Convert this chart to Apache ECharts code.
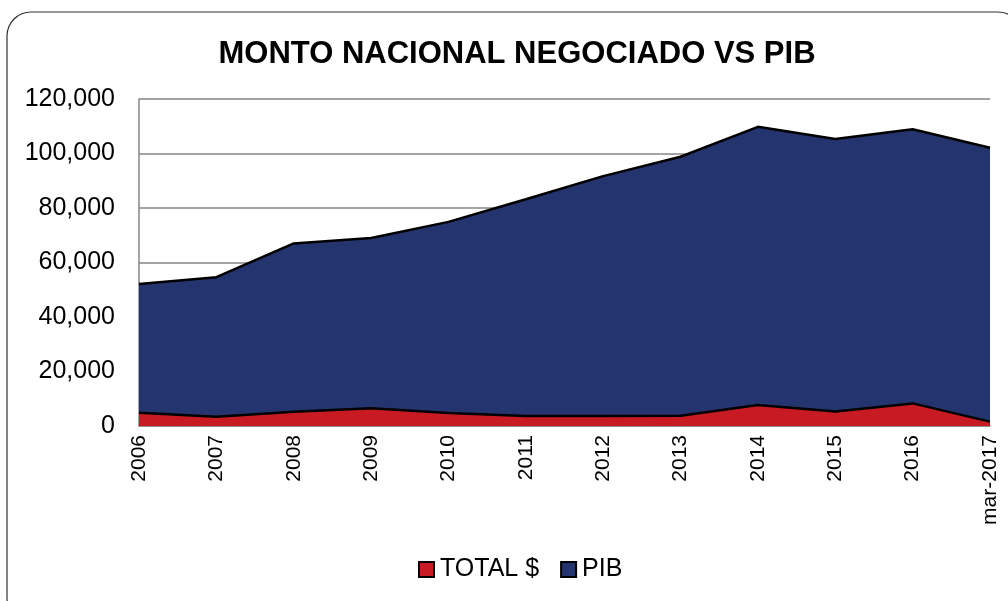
<!DOCTYPE html>
<html>
<head>
<meta charset="utf-8">
<script src="https://cdn.jsdelivr.net/npm/echarts@6/dist/echarts.min.js"></script>
<style>
  html, body { margin: 0; padding: 0; background: #fff; }
  #chart { width: 1008px; height: 601px; }
</style>
</head>
<body>
<div id="chart"></div>
<script>
const years = ["2006", "2007", "2008", "2009", "2010", "2011", "2012", "2013", "2014", "2015", "2016", "mar-2017"];
const totalValues = [4900, 3400, 5200, 6500, 4800, 3700, 3700, 3800, 7700, 5300, 8300, 1600];
const pibValues = [52100, 54600, 67000, 69000, 74900, 83200, 91700, 98800, 109800, 105300, 108900, 102100];
const yTicks = [0, 20000, 40000, 60000, 80000, 100000, 120000];

const chart = echarts.init(document.getElementById("chart"));

const font = "Liberation Sans, Arial, sans-serif";

const option = {
  animation: false,
  backgroundColor: "#fff",
  title: {
    text: "MONTO NACIONAL NEGOCIADO VS PIB",
    left: 512,
    textAlign: "center",
    top: 34,
    textStyle: { fontFamily: font, fontSize: 31, fontWeight: "bold", color: "#000" },
  },
  graphic: [
    {
      type: "rect",
      shape: { x: 7, y: 12, width: 1015, height: 610, r: 24 },
      style: { fill: "none", stroke: "#333", lineWidth: 1.2 },
      silent: true,
    },
  ],
  legend: {
    top: 552,
    left: 413,
    itemWidth: 15,
    itemHeight: 15,
    itemGap: 21,
    icon: "rect",
    textStyle: { fontFamily: font, fontSize: 25, color: "#000", padding: [0, 0, 0, 1] },
    data: [
      { name: "TOTAL $", itemStyle: { borderColor: "#000", borderWidth: 2 } },
      { name: "PIB", itemStyle: { borderColor: "#000", borderWidth: 2 } },
    ],
  },
  grid: { left: 139, right: 18, top: 99, bottom: 175 },
  xAxis: {
    type: "category",
    data: years,
    boundaryGap: false,
    axisLine: { lineStyle: { color: "#868686", width: 1.5 } },
    axisTick: { show: false },
    axisLabel: {
      rotate: 90,
      fontFamily: font,
      fontSize: 21,
      color: "#000",
      margin: 9,
      interval: 0,
    },
  },
  yAxis: {
    type: "value",
    min: yTicks[0],
    max: yTicks[yTicks.length - 1],
    interval: 20000,
    axisLine: { show: true, lineStyle: { color: "#868686", width: 1.5 } },
    axisTick: { show: false },
    splitLine: { lineStyle: { color: "#868686", width: 1.5 } },
    axisLabel: {
      fontFamily: font,
      fontSize: 25,
      color: "#000",
      margin: 24,
      formatter: (v) => v.toLocaleString("en-US"),
    },
  },
  series: [
    {
      name: "PIB",
      type: "line",
      data: pibValues,
      symbol: "none",
      z: 2,
      lineStyle: { color: "#000", width: 2.5 },
      itemStyle: { color: "#24346E" },
      areaStyle: { color: "#24346E", opacity: 1 },
    },
    {
      name: "TOTAL $",
      type: "line",
      data: totalValues,
      symbol: "none",
      z: 3,
      lineStyle: { color: "#000", width: 2.5 },
      itemStyle: { color: "#C71A22" },
      areaStyle: { color: "#C71A22", opacity: 1 },
    },
  ],
};

chart.setOption(option);
</script>
</body>
</html>
